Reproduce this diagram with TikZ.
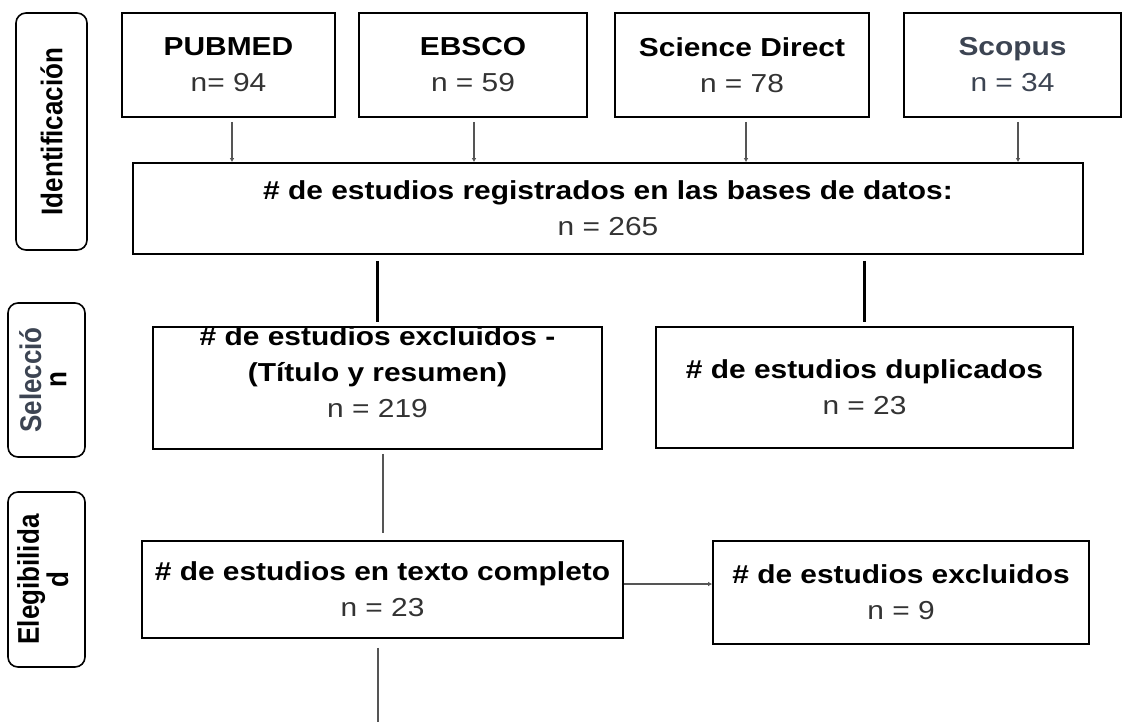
\documentclass[tikz,border=0pt]{standalone}
\usepackage{fontspec}
\setmainfont{Liberation Sans}[FakeStretch=1.15]
\newfontfamily\sidefont{Liberation Sans}
\usetikzlibrary{arrows.meta}
\definecolor{numgray}{RGB}{51,51,51}
\definecolor{slate}{RGB}{60,68,82}
\definecolor{linegray}{RGB}{85,85,85}
\tikzset{
  box/.style={draw, line width=1.6pt, inner sep=0pt},
  boxtext/.style={align=center, inner sep=0pt, font=\fontsize{26}{36}\selectfont},
  side/.style={draw, line width=1.6pt, rounded corners=10pt, rotate=90, align=center, inner sep=0pt, font=\sidefont\fontsize{26}{22}\selectfont\bfseries},
  link/.style={line width=2pt, linegray},
  blk/.style={line width=2.2pt, black},
  arr/.style={link, -{Latex[length=4pt,width=4.5pt]}},
}
\newcommand{\tall}[1]{\scalebox{1}[1.15]{#1}}
\begin{document}
\begin{tikzpicture}[x=1pt,y=1pt,yscale=-1,xscale=1]
  \useasboundingbox (0,0) rectangle (1123,721);
  % Side labels
  \node[side, minimum width=237pt, minimum height=71pt] (ident) at (51.5,131.5) {\tall{Identificación}};
  \node[side, minimum width=154pt, minimum height=77pt] (selec) at (46.5,380) {\tall{\begin{tabular}{@{}c@{}}\color{slate}Selecció\\n\end{tabular}}};
  \node[side, minimum width=175pt, minimum height=77pt] (elig) at (46.5,579.5) {\tall{\begin{tabular}{@{}c@{}}Elegibilida\\d\end{tabular}}};

  % Data bases
  \node[box, boxtext, minimum width=213pt, minimum height=104pt] (pub) at (228.5,65) {\textbf{PUBMED}\\\color{numgray}n= 94};
  \node[box, boxtext, minimum width=228pt, minimum height=104pt] (ebs) at (473,65) {\textbf{EBSCO}\\\color{numgray}n = 59};
  \node[box, boxtext, minimum width=254pt, minimum height=104pt] (sd) at (742,65) {\textbf{Science Direct}\\\color{numgray}n = 78};
  \node[box, boxtext, minimum width=217pt, minimum height=104pt, text=slate] (sco) at (1012.5,65) {\textbf{Scopus}\\n = 34};

  % Registered
  \node[box, boxtext, minimum width=950pt, minimum height=91pt] (main) at (608,208.5) {\textbf{\# de estudios registrados en las bases de datos:}\\\color{numgray}n = 265};

  % Selection
  \node[box, minimum width=449pt, minimum height=122pt] (excl) at (377.5,388) {};
  \node[boxtext] (excltxt) at (377.5,372) {\textbf{\# de estudios excluidos -}\\\textbf{(Título y resumen)}\\\color{numgray}n = 219};
  \node[box, boxtext, minimum width=417pt, minimum height=121pt] (dup) at (864.5,387.5) {\textbf{\# de estudios duplicados}\\\color{numgray}n = 23};

  % Eligibility
  \node[box, boxtext, minimum width=481pt, minimum height=97pt] (texto) at (382.5,589.5) {\textbf{\# de estudios en texto completo}\\\color{numgray}n = 23};
  \node[box, boxtext, minimum width=376pt, minimum height=103pt] (exc9) at (901,592.5) {\textbf{\# de estudios excluidos}\\\color{numgray}n = 9};
  \coordinate (end) at (378,725);

  % Arrows
  \draw[arr, shorten <=4pt] ([xshift=3.5pt]pub.south) -- ([xshift=3.5pt]pub.south |- main.north);
  \draw[arr, shorten <=4pt] ([xshift=1pt]ebs.south) -- ([xshift=1pt]ebs.south |- main.north);
  \draw[arr, shorten <=4pt] ([xshift=4pt]sd.south) -- ([xshift=4pt]sd.south |- main.north);
  \draw[arr, shorten <=4pt] ([xshift=5.5pt]sco.south) -- ([xshift=5.5pt]sco.south |- main.north);
  % Lines
  \draw[blk, shorten <=6pt, shorten >=4pt] (excl.north |- main.south) -- (excl.north);
  \draw[blk, shorten <=6pt, shorten >=4pt] (dup.north |- main.south) -- (dup.north);
  \draw[link, shorten <=4pt, shorten >=7pt] (texto.north |- excl.south) -- (texto.north);
  \draw[arr] ([yshift=-5.5pt]texto.east) -- ([yshift=-5.5pt]texto.east -| exc9.west);
  \draw[link, shorten <=9pt] (end |- texto.south) -- (end);
\end{tikzpicture}
\end{document}
